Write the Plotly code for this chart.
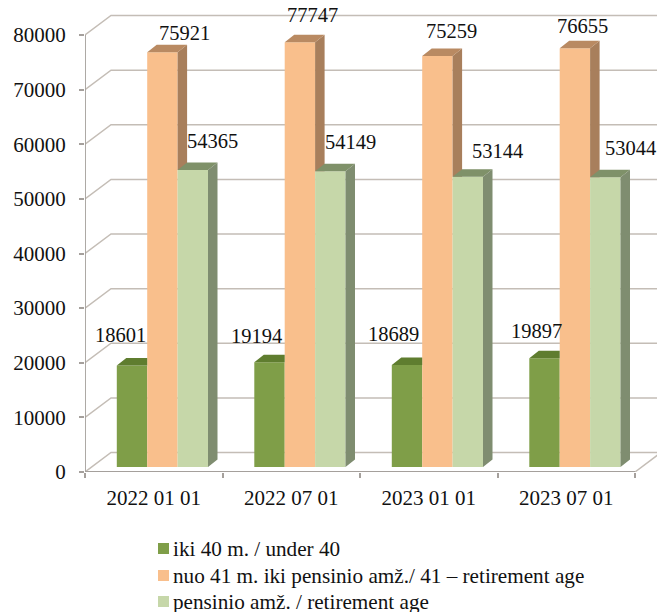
import plotly.graph_objects as go

categories = ["2022 01 01", "2022 07 01", "2023 01 01", "2023 07 01"]
under_40 = [18601, 19194, 18689, 19897]
age_41_retirement = [75921, 77747, 75259, 76655]
retirement_age = [54365, 54149, 53144, 53044]
series_names = ["iki 40 m. / under 40",
                "nuo 41 m. iki pensinio amž./ 41 – retirement age",
                "pensinio amž. / retirement age"]
y_ticks = [0, 10000, 20000, 30000, 40000, 50000, 60000, 70000, 80000]

# --- styles / geometry, in pixels of the 657x612 page ---
W, H = 657, 612
ML, MB = 85, 140
CAT_PX = 137.5
Y_PX = 437 / 80000
px_x = lambda p: p / CAT_PX
px_y = lambda p: p / Y_PX
WALL_DX, WALL_DY = px_x(26), px_y(19.5)
BAR_DX, BAR_DY = px_x(9.5), px_y(7.5)
BASE = px_y(5)
BAR_W = px_x(30.4)
BAR_START = px_x(31.8)
FONT = "Liberation Serif"
INK = "#111111"
GRID = "#c4bdb6"
AXIS = "#a5a09c"
FRONT = ["#7f9e48", "#f9bf8c", "#c6d7a9"]
TOP = ["#5f7d2f", "#b98a62", "#7f9169"]
SIDE = ["#5f7d2f", "#a87f5c", "#7f8d70"]
# label offsets from the front-top centre of each bar (dx, dy in px)
LABEL_OFF = [
    [(-12, -30), (-13, -26), (-14, -31), (-8, -27)],
    [(22, -19), (12.5, -27), (14.5, -25), (7.5, -22)],
    [(20, -29), (20, -29), (29.5, -26), (25, -29)],
]
# legend rows: swatch left/top and text left/centre, px
LEG_SWATCH_X = 158
LEG_SWATCH_SIZE = 11
LEG_TEXT_X = 173
LEG_ROW_Y = [548.5, 575.5, 601.5]

values = [under_40, age_41_retirement, retirement_age]
bar_x = lambda c, s: c + BAR_START + s * BAR_W


def poly(pts_list, color):
    xs, ys = [], []
    for pts in pts_list:
        xs += [p[0] for p in pts] + [pts[0][0], None]
        ys += [p[1] for p in pts] + [pts[0][1], None]
    return go.Scatter(x=xs, y=ys, mode="lines", fill="toself", fillcolor=color,
                      line=dict(width=0, color=color), hoverinfo="skip",
                      showlegend=False, cliponaxis=False)


fig = go.Figure()

# front faces
for s, name in enumerate(series_names):
    fig.add_trace(go.Bar(
        x=[i + BAR_START + s * BAR_W + BAR_W / 2 for i in range(4)],
        y=values[s], base=BASE, width=BAR_W, name=name,
        marker=dict(color=FRONT[s], line=dict(width=0)),
        showlegend=False))

# depth faces
n = len(categories)
fig.add_trace(poly([[
    (bar_x(c, 2), values[1][c] + BASE),
    (bar_x(c, 2) + BAR_DX, values[1][c] + BASE + BAR_DY),
    (bar_x(c, 2) + BAR_DX, values[2][c] + BASE),
    (bar_x(c, 2), values[2][c] + BASE)] for c in range(n)], SIDE[1]))
fig.add_trace(poly([[
    (bar_x(c, 1), values[1][c] + BASE),
    (bar_x(c, 1) + BAR_DX, values[1][c] + BASE + BAR_DY),
    (bar_x(c, 2) + BAR_DX, values[1][c] + BASE + BAR_DY),
    (bar_x(c, 2), values[1][c] + BASE)] for c in range(n)], TOP[1]))
fig.add_trace(poly([[
    (bar_x(c, 0), values[0][c] + BASE),
    (bar_x(c, 0) + BAR_DX, values[0][c] + BASE + BAR_DY),
    (bar_x(c, 1), values[0][c] + BASE + BAR_DY),
    (bar_x(c, 1), values[0][c] + BASE)] for c in range(n)], TOP[0]))
fig.add_trace(poly([[
    (bar_x(c, 2), values[2][c] + BASE),
    (bar_x(c, 2) + BAR_DX, values[2][c] + BASE + BAR_DY),
    (bar_x(c, 3) + BAR_DX, values[2][c] + BASE + BAR_DY),
    (bar_x(c, 3), values[2][c] + BASE)] for c in range(n)], TOP[2]))
fig.add_trace(poly([[
    (bar_x(c, 3), BASE),
    (bar_x(c, 3) + BAR_DX, BASE + BAR_DY),
    (bar_x(c, 3) + BAR_DX, values[2][c] + BASE + BAR_DY),
    (bar_x(c, 3), values[2][c] + BASE)] for c in range(n)], SIDE[2]))

# axis lines
fig.add_trace(go.Scatter(x=[0, 0, n], y=[y_ticks[-1], 0, 0], mode="lines",
                         line=dict(color=AXIS, width=1.8), hoverinfo="skip",
                         showlegend=False, cliponaxis=False))

# wall grid lines + floor, kept below the bars
shapes = []
x_end = 5
for t in y_ticks:
    shapes.append(dict(type="path", layer="below", xref="x", yref="y",
                       path=f"M0,{t} L{WALL_DX},{t + WALL_DY} L{x_end},{t + WALL_DY}",
                       line=dict(color=GRID, width=1.5)))
shapes.append(dict(type="line", layer="below", xref="x", yref="y",
                   x0=n, y0=0, x1=n + WALL_DX, y1=WALL_DY,
                   line=dict(color=GRID, width=1.5)))

annotations = []
for s in range(3):
    for c in range(n):
        dx, dy = LABEL_OFF[s][c]
        annotations.append(dict(
            x=bar_x(c, s) + BAR_W / 2, y=values[s][c] + BASE,
            xref="x", yref="y", text=str(values[s][c]), showarrow=False,
            xshift=dx, yshift=-dy, xanchor="center", yanchor="middle",
            font=dict(family=FONT, size=20.5, color=INK)))

# legend rows, placed on the page so that the row spacing matches
plot_w, plot_h = W - ML, H - MB
for s, name in enumerate(series_names):
    cy = LEG_ROW_Y[s]
    annotations.append(dict(
        x=(LEG_TEXT_X - ML) / plot_w, y=(plot_h - cy) / plot_h,
        xref="paper", yref="paper", text=name, showarrow=False,
        xanchor="left", yanchor="middle", xshift=-2,
        font=dict(family=FONT, size=21.2, color=INK)))
    shapes.append(dict(
        type="rect", xref="paper", yref="paper", line=dict(width=0),
        fillcolor=FRONT[s],
        x0=(LEG_SWATCH_X - ML) / plot_w,
        x1=(LEG_SWATCH_X + LEG_SWATCH_SIZE - ML) / plot_w,
        y0=(plot_h - cy + LEG_SWATCH_SIZE / 2) / plot_h,
        y1=(plot_h - cy - LEG_SWATCH_SIZE / 2) / plot_h))

fig.update_layout(
    width=W, height=H, margin=dict(l=ML, r=0, t=0, b=MB, autoexpand=False),
    paper_bgcolor="white", plot_bgcolor="rgba(0,0,0,0)",
    barmode="overlay", shapes=shapes, annotations=annotations,
    font=dict(family=FONT, size=20, color=INK),
    xaxis=dict(range=[0, (W - ML) / CAT_PX], tickmode="array",
               tickvals=[i + 0.5 for i in range(n)], ticktext=categories,
               ticks="", showgrid=False, zeroline=False, showline=False,
               ticklabelstandoff=11,
               tickfont=dict(family=FONT, size=21, color=INK),
               minor=dict(tickmode="array", tickvals=list(range(n + 1)),
                          ticks="outside", ticklen=5, tickcolor=AXIS,
                          tickwidth=1.5, showgrid=False)),
    yaxis=dict(range=[0, (H - MB) / Y_PX], tickmode="array", tickvals=y_ticks,
               ticktext=[str(t) for t in y_ticks],
               ticks="outside", ticklen=5, tickcolor=AXIS, tickwidth=1.5,
               showgrid=False, zeroline=False, showline=False,
               ticklabelstandoff=9,
               tickfont=dict(family=FONT, size=21, color=INK)),
    showlegend=False,
)

fig.write_html("out.html", config=dict(displayModeBar=False),
               post_script="document.body.style.margin='0';")
